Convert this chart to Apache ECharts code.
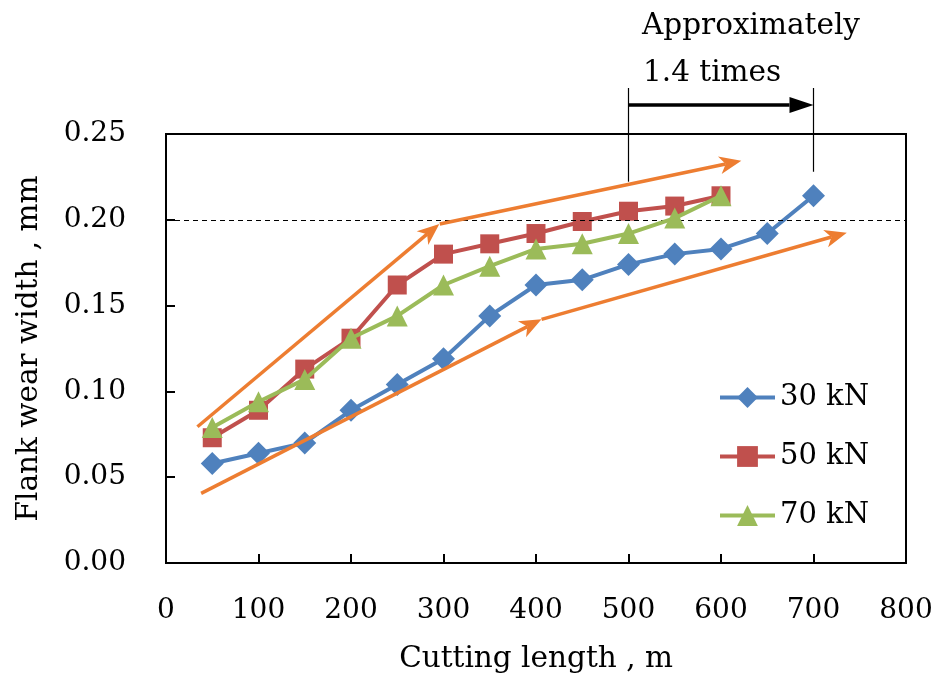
<!DOCTYPE html>
<html>
<head>
<meta charset="utf-8">
<script src="https://cdn.jsdelivr.net/npm/echarts@6/dist/echarts.min.js"></script>
<style>html,body{margin:0;padding:0;background:#fff;}#c{width:938px;height:680px;}</style>
</head>
<body>
<div id="c"></div>
<script>
// ---- data ----
const lengths30 = [50,100,150,200,250,300,350,400,450,500,550,600,650,700];
const wear30    = [0.058,0.064,0.070,0.089,0.104,0.119,0.144,0.162,0.165,0.174,0.180,0.183,0.192,0.214];
const lengths50 = [50,100,150,200,250,300,350,400,450,500,550,600];
const wear50    = [0.073,0.089,0.113,0.131,0.162,0.180,0.186,0.192,0.199,0.205,0.208,0.214];
const lengths70 = [50,100,150,200,250,300,350,400,450,500,550,600];
const wear70    = [0.079,0.094,0.107,0.131,0.144,0.162,0.173,0.183,0.186,0.192,0.201,0.214];
const seriesNames = ['30 kN','50 kN','70 kN'];
const xTicks = [0,100,200,300,400,500,600,700,800];
const yTicks = [0.00,0.05,0.10,0.15,0.20,0.25];
const limitWear = 0.20;
// trend arrows (annotation) in data units: [x1, y1, x2, y2]
const trendArrows = [
  [34, 0.0794, 295.5, 0.1976],
  [296, 0.1976, 622, 0.2344],
  [38, 0.0406, 406, 0.142],
  [406, 0.142, 736, 0.1925]
];
// bracket annotation: life ratio between 500 m and 700 m
const bracketVerticals = [
  [500, 0.2768, 500, 0.2222],
  [700, 0.2768, 700, 0.228]
];
const bracketArrow = [[500, 0.2669, 700, 0.2669]];
const noteLines = ['Approximately', '1.4 times'];

// ---- chart ----
const FONT = '"DejaVu Serif", serif';
const chart = echarts.init(document.getElementById('c'), null, {renderer:'canvas'});

function zip(xs, ys){ return xs.map((x,i)=>[x, ys[i]]); }

function arrowGeom(p1, p2, L, W, notch){
  const dx=p2[0]-p1[0], dy=p2[1]-p1[1];
  const len=Math.hypot(dx,dy); const ux=dx/len, uy=dy/len; const nx=-uy, ny=ux;
  const base=[p2[0]-ux*L, p2[1]-uy*L];
  const left=[base[0]+nx*W, base[1]+ny*W];
  const right=[base[0]-nx*W, base[1]-ny*W];
  const np=[p2[0]-ux*(L-notch), p2[1]-uy*(L-notch)];
  return {poly:[p2.slice(),left,np,right], end:np};
}

function makeArrowRenderer(color, lw, L, W, notch){
  return function(params, api){
    const p1 = api.coord([api.value(0), api.value(1)]);
    const p2 = api.coord([api.value(2), api.value(3)]);
    const g = arrowGeom(p1, p2, L, W, notch);
    return {type:'group', children:[
      {type:'line', shape:{x1:p1[0],y1:p1[1],x2:g.end[0],y2:g.end[1]}, style:{stroke:color, lineWidth:lw, lineCap:'butt'}},
      {type:'polygon', shape:{points:g.poly}, style:{fill:color}}
    ]};
  };
}

function plainLineRenderer(params, api){
  const p1 = api.coord([api.value(0), api.value(1)]);
  const p2 = api.coord([api.value(2), api.value(3)]);
  return {type:'line', shape:{x1:p1[0],y1:p1[1],x2:p2[0],y2:p2[1]}, style:{stroke:'#000', lineWidth:1.2}};
}

const colors = ['#4F81BD','#C0504D','#9BBB59'];

const option = {
  animation:false,
  backgroundColor:'#fff',
  textStyle:{fontFamily:FONT},
  grid:{left:166, right:32, top:134, bottom:117, show:true, borderColor:'#000', borderWidth:2, backgroundColor:'transparent'},
  legend:{
    orient:'vertical', left:718, top:383, padding:0, itemWidth:55, itemHeight:26, itemGap:30,
    textStyle:{fontFamily:FONT, fontSize:29, color:'#000'},
    lineStyle:{width:4},
    data:seriesNames
  },
  xAxis:{
    type:'value', min:xTicks[0], max:xTicks[xTicks.length-1], interval:100,
    name:'Cutting length , m', nameLocation:'middle', nameGap:81,
    nameTextStyle:{fontFamily:FONT, fontSize:29.5, color:'#000'},
    axisLine:{show:true, lineStyle:{color:'#000', width:2}},
    axisTick:{show:true, inside:true, length:9, lineStyle:{color:'#000', width:2}},
    axisLabel:{fontFamily:FONT, fontSize:28, color:'#000', margin:34},
    splitLine:{show:false}
  },
  yAxis:{
    type:'value', min:yTicks[0], max:yTicks[yTicks.length-1], interval:0.05,
    name:'Flank wear width , mm', nameLocation:'middle', nameGap:122,
    nameTextStyle:{fontFamily:FONT, fontSize:29.5, color:'#000'},
    axisLine:{show:true, lineStyle:{color:'#000', width:2}},
    axisTick:{show:true, inside:true, length:9, lineStyle:{color:'#000', width:2}},
    axisLabel:{fontFamily:FONT, fontSize:28, color:'#000', margin:40, formatter:v=>v.toFixed(2)},
    splitLine:{show:false}
  },
  graphic:[
    {type:'text', left:642, top:11, style:{text:noteLines[0], font:'29.5px "DejaVu Serif"', fill:'#000'}},
    {type:'text', left:643, top:58, style:{text:noteLines[1], font:'29.5px "DejaVu Serif"', fill:'#000'}}
  ],
  series:[
    {name:seriesNames[0], type:'line', data:zip(lengths30, wear30), color:colors[0],
     symbol:'diamond', symbolSize:23, lineStyle:{width:4}, itemStyle:{color:colors[0]}, z:3,
     markLine:{silent:true, symbol:['none','none'], label:{show:false},
       lineStyle:{color:'#000', type:[5,4], width:1}, data:[{yAxis:limitWear}]}},
    {name:seriesNames[1], type:'line', data:zip(lengths50, wear50), color:colors[1],
     symbol:'rect', symbolSize:19, lineStyle:{width:4}, itemStyle:{color:colors[1]}, z:4},
    {name:seriesNames[2], type:'line', data:zip(lengths70, wear70), color:colors[2],
     symbol:'triangle', symbolSize:21, lineStyle:{width:4}, itemStyle:{color:colors[2]}, z:5},
    {type:'custom', data:trendArrows, renderItem:makeArrowRenderer('#ED7D31', 3.5, 22, 9, 6), z:6, silent:true},
    {type:'custom', data:bracketVerticals, renderItem:plainLineRenderer, z:6, silent:true},
    {type:'custom', data:bracketArrow, renderItem:makeArrowRenderer('#000', 3.5, 24, 8, 0), z:6, silent:true}
  ]
};
chart.setOption(option);
</script>
</body>
</html>
